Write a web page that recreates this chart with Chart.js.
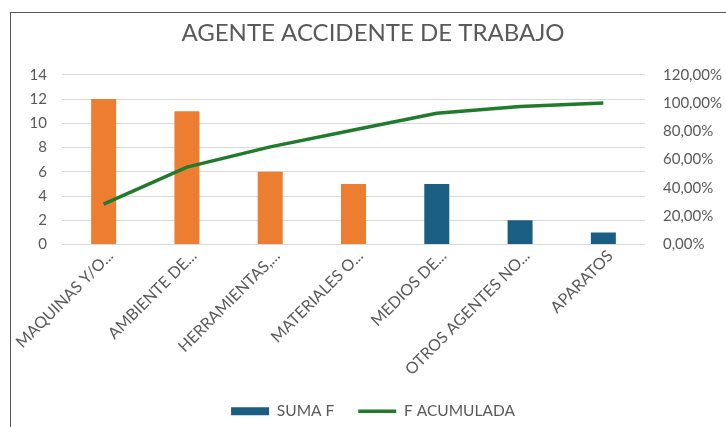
<!DOCTYPE html>
<html>
<head>
<meta charset="utf-8">
<script src="https://cdn.jsdelivr.net/npm/chart.js@4/dist/chart.umd.min.js"></script>
<style>
  html, body { margin: 0; padding: 0; background: #fff; overflow: hidden; }
  #frame { position: absolute; left: 10px; top: 12px; width: 900px; height: 600px;
           border-left: 1px solid #555; border-top: 1px solid #555; }
  #wrap { position: absolute; left: 0; top: 0; width: 726px; height: 427px; }
</style>
</head>
<body>
<div id="frame"></div>
<div id="wrap"><canvas id="chart"></canvas></div>
<script>
// datos
const categorias = ['MAQUINAS Y/O...', 'AMBIENTE DE...', 'HERRAMIENTAS,...', 'MATERIALES O...',
                    'MEDIOS DE...', 'OTROS AGENTES NO...', 'APARATOS'];
const sumaF = [12, 11, 6, 5, 5, 2, 1];
const fAcumulada = [28.57, 54.76, 69.05, 80.95, 92.86, 97.62, 100];
const ticksIzq = [0, 2, 4, 6, 8, 10, 12, 14];
const ticksDer = [0, 20, 40, 60, 80, 100, 120];

const NARANJA = '#ED7D31';
const AZUL = '#1B5E84';
const VERDE = '#217B2D';
const GRIS = '#595959';
const FUENTE = 'Lato, "Open Sans", sans-serif';

// las 4 primeras barras naranjas, el resto azul
const coloresBarras = sumaF.map((v, i) => i < 4 ? NARANJA : AZUL);

const ctx = document.getElementById('chart').getContext('2d');
new Chart(ctx, {
    type: 'bar',
    data: {
        labels: categorias,
        datasets: [
            {
                label: 'SUMA F',
                data: sumaF,
                backgroundColor: coloresBarras,
                yAxisID: 'y',
                order: 1,
                barPercentage: 0.3,
                categoryPercentage: 1,
                pointStyle: 'rect'
            },
            {
                type: 'line',
                label: 'F ACUMULADA',
                data: fAcumulada,
                borderColor: VERDE,
                backgroundColor: VERDE,
                borderWidth: 3.5,
                pointRadius: 0,
                tension: 0,
                yAxisID: 'y1',
                order: 0,
                pointStyle: 'line'
            }
        ]
    },
    options: {
        responsive: true,
        maintainAspectRatio: false,
        animation: false,
        layout: { padding: { left: 20, right: 0, top: 0, bottom: -2 } },
        scales: {
            x: {
                grid: { display: false },
                border: { display: false },
                ticks: {
                    color: GRIS,
                    font: { family: FUENTE, size: 16 },
                    maxRotation: 45,
                    minRotation: 45,
                    autoSkip: false,
                    padding: -6,
                    labelOffset: 7
                },
                afterFit: s => { s.height = 135; }
            },
            y: {
                position: 'left',
                min: 0,
                max: 14,
                afterBuildTicks: s => { s.ticks = ticksIzq.map(v => ({ value: v })); },
                grid: { color: '#D9D9D9', lineWidth: 1, drawTicks: false },
                border: { display: false },
                ticks: {
                    color: GRIS,
                    font: { family: FUENTE, size: 15 },
                    padding: 15
                },
                afterFit: s => { s.width = 42; }
            },
            y1: {
                position: 'right',
                min: 0,
                max: 120,
                afterBuildTicks: s => { s.ticks = ticksDer.map(v => ({ value: v })); },
                grid: { display: false, drawTicks: false },
                border: { display: false },
                ticks: {
                    color: GRIS,
                    font: { family: FUENTE, size: 15 },
                    padding: 18,
                    callback: v => v.toFixed(2).replace('.', ',') + '%'
                },
                afterFit: s => { s.width = 81; }
            }
        },
        plugins: {
            title: {
                display: true,
                text: 'AGENTE ACCIDENTE DE TRABAJO',
                color: GRIS,
                font: { family: FUENTE, size: 24, weight: 'normal' },
                padding: { top: 19, bottom: 27 }
            },
            legend: {
                position: 'bottom',
                labels: {
                    color: GRIS,
                    font: { family: FUENTE, size: 15.5 },
                    usePointStyle: true,
                    pointStyleWidth: 38,
                    boxHeight: 8,
                    padding: 24,
                    sort: (a, b) => a.datasetIndex - b.datasetIndex,
                    generateLabels: chart => {
                        const items = Chart.defaults.plugins.legend.labels.generateLabels(chart);
                        items.forEach(it => {
                            if (it.datasetIndex === 0) {
                                it.fillStyle = AZUL;
                                it.strokeStyle = AZUL;
                                it.lineWidth = 0;
                            }
                        });
                        return items;
                    }
                }
            },
            tooltip: { enabled: false }
        }
    }
});
</script>
</body>
</html>
